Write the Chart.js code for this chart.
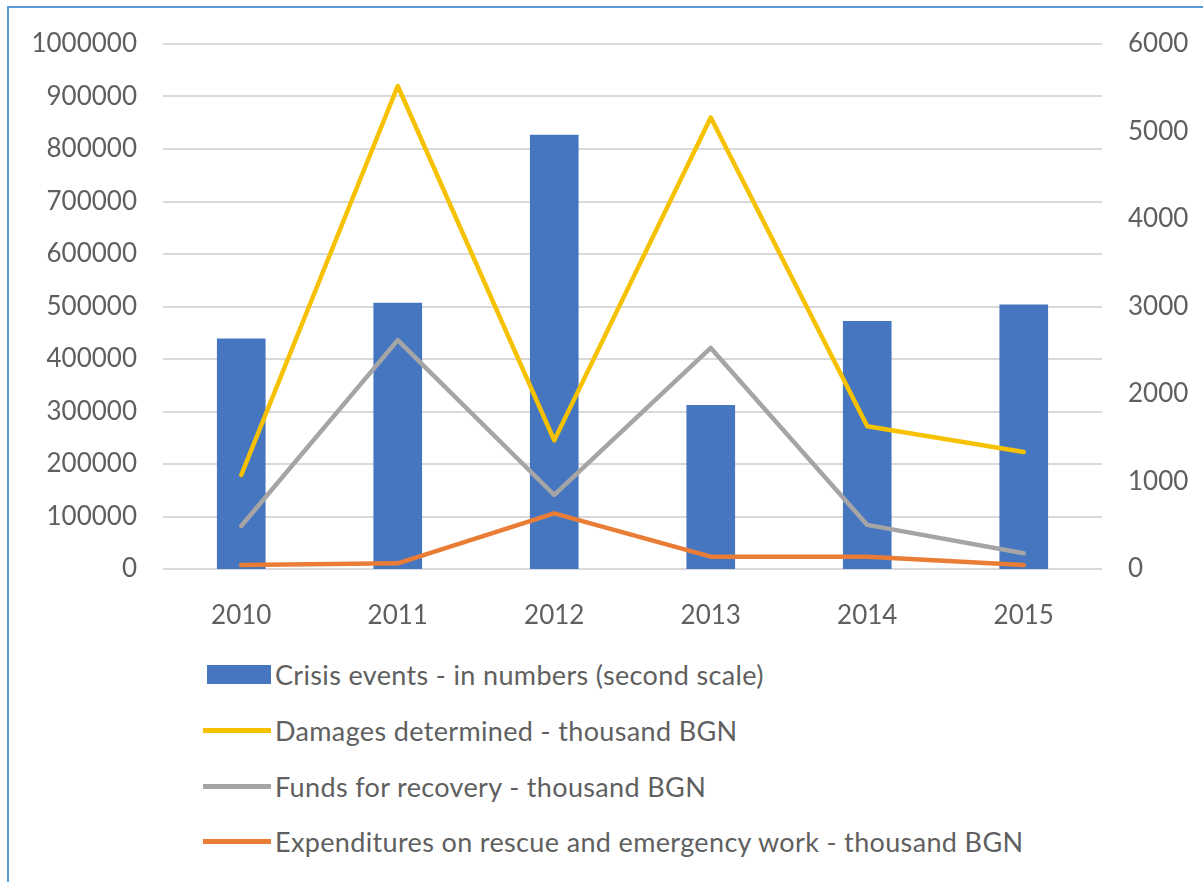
<!DOCTYPE html>
<html>
<head>
<meta charset="utf-8">
<script src="https://cdn.jsdelivr.net/npm/chart.js@4.4.6/dist/chart.umd.min.js"></script>
<style>
  html, body { margin: 0; padding: 0; background: #fff; }
  #wrap { position: relative; width: 1203px; height: 882px; overflow: hidden; background: #fff; }
  #frame { position: absolute; left: 7px; top: 6px; right: -10px; bottom: -10px;
           border-top: 2px solid #5b9bd5; border-left: 2px solid #5b9bd5; pointer-events: none; }
  #chart { position: absolute; left: 0; top: 0; }
  #legend { position: absolute; left: 203px; top: 647px; font-family: Lato, sans-serif;
            font-size: 27px; letter-spacing: 0.35px; color: #5f5f5f; }
  #legend .row { display: flex; align-items: center; height: 55.7px; white-space: nowrap; }
  #legend .key { width: 68px; display: flex; align-items: center; justify-content: flex-end; }
  #legend .text { margin-left: 4px; }
</style>
</head>
<body>
<div id="wrap">
  <canvas id="chart" width="1203" height="640"></canvas>
  <div id="legend"></div>
  <div id="frame"></div>
</div>
<script>
const years = ["2010", "2011", "2012", "2013", "2014", "2015"];
// crisis events are counted on the right-hand axis
const crisisEvents = [2630, 3040, 4960, 1870, 2830, 3020];
// the other series are thousand BGN on the left-hand axis
const damages = [179000, 920000, 245000, 860000, 272000, 223000];
const recoveryFunds = [82000, 436000, 141000, 421000, 84000, 30000];
const rescueSpending = [7600, 10800, 106000, 23500, 23500, 7600];

const leftTicks = { min: 0, max: 1000000, step: 100000 };
const rightTicks = { min: 0, max: 6000, step: 1000 };

const textColor = "#5f5f5f";
const gridColor = "#d9d9d9";
const font = { family: "Lato, sans-serif", size: 26 };

function lineSet(label, data, color) {
  return {
    type: "line",
    label,
    data,
    yAxisID: "y",
    borderColor: color,
    backgroundColor: color,
    borderWidth: 4.5,
    borderJoinStyle: "round",
    borderCapStyle: "round",
    pointRadius: 0,
    tension: 0,
    order: 0
  };
}

const chart = new Chart(document.getElementById("chart"), {
  data: {
    labels: years,
    datasets: [
      {
        type: "bar",
        label: "Crisis events - in numbers (second scale)",
        data: crisisEvents,
        yAxisID: "y2",
        backgroundColor: "#4676c0",
        barThickness: 48,
        order: 1
      },
      lineSet("Damages determined - thousand BGN", damages, "#f5c100"),
      lineSet("Funds for recovery - thousand BGN", recoveryFunds, "#a5a5a5"),
      lineSet("Expenditures on rescue and emergency work - thousand BGN", rescueSpending, "#ea7d36")
    ]
  },
  options: {
    responsive: false,
    animation: false,
    layout: { padding: { top: 44, left: 0, right: 0, bottom: 0 } },
    plugins: { legend: { display: false }, tooltip: { enabled: false } },
    scales: {
      x: {
        grid: { display: false },
        border: { display: false },
        ticks: { color: textColor, font, padding: 23, maxRotation: 0 },
        afterFit: (scale) => { scale.height = 71; }
      },
      y: {
        position: "left",
        min: leftTicks.min,
        max: leftTicks.max,
        border: { display: false },
        grid: { color: gridColor, lineWidth: 2, drawTicks: false },
        ticks: { stepSize: leftTicks.step, color: textColor, font, padding: 26, callback: (v) => String(v) },
        afterFit: (scale) => { scale.width = 163; }
      },
      y2: {
        position: "right",
        min: rightTicks.min,
        max: rightTicks.max,
        border: { display: false },
        grid: { display: false, drawTicks: false },
        ticks: { stepSize: rightTicks.step, color: textColor, font, padding: 26, callback: (v) => String(v) },
        afterFit: (scale) => { scale.width = 101; }
      }
    }
  }
});

// legend: one entry per row, built from the chart's datasets
const legendEl = document.getElementById("legend");
chart.data.datasets.forEach((ds) => {
  const row = document.createElement("div");
  row.className = "row";
  const key = document.createElement("span");
  key.className = "key";
  const swatch = document.createElement("span");
  swatch.style.display = "block";
  swatch.style.background = ds.type === "bar" ? ds.backgroundColor : ds.borderColor;
  swatch.style.width = ds.type === "bar" ? "64px" : "68px";
  swatch.style.height = ds.type === "bar" ? "19px" : "5px";
  key.appendChild(swatch);
  const text = document.createElement("span");
  text.className = "text";
  text.textContent = ds.label;
  row.appendChild(key);
  row.appendChild(text);
  legendEl.appendChild(row);
});
</script>
</body>
</html>
